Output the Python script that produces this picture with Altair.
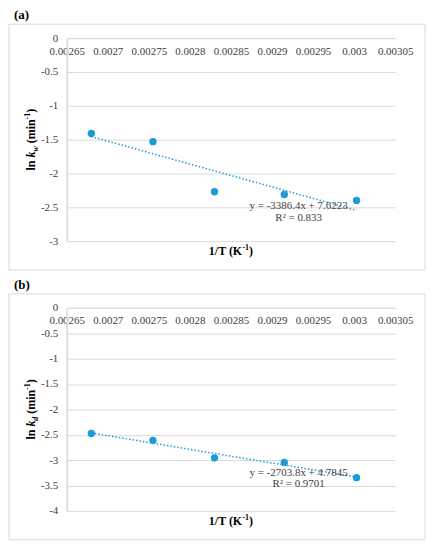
import altair as alt
import pandas as pd

# ---- data ----
inv_T = [0.00268, 0.002755, 0.00283, 0.002915, 0.003003]
ln_kw = [-1.41, -1.53, -2.27, -2.31, -2.40]
ln_kd = [-2.475, -2.61, -2.955, -3.045, -3.345]
x_ticks = [0.00265, 0.0027, 0.00275, 0.0028, 0.00285, 0.0029, 0.00295, 0.003, 0.00305]
ya_ticks = [0, -0.5, -1, -1.5, -2, -2.5, -3]
yb_ticks = [0, -0.5, -1, -1.5, -2, -2.5, -3, -3.5, -4]
eq_a = ["y = -3386.4x + 7.6223", "R² = 0.833"]
eq_b = ["y = -2703.8x + 4.7845", "R² = 0.9701"]
tags = ["(a)", "(b)"]
subs = ["w", "d"]

W, H = 330, 204
FONT = "'Liberation Serif', 'Times New Roman', Times, serif"
BLUE = "#1E9BD7"
GRID = "#d9d9d9"
LBL = "#404040"


def txt(text, x, y, size=12, weight="bold", style="normal", align="left",
        baseline="alphabetic", angle=0, color="black"):
    return alt.Chart(pd.DataFrame({"t": [text]})).mark_text(
        font=FONT, fontSize=size, fontWeight=weight, fontStyle=style,
        align=align, baseline=baseline, angle=angle, color=color
    ).encode(x=alt.value(x), y=alt.value(y), text="t:N")


def y_title(subl):
    s, ss = 12, 8
    segs = [
        ("ln", s, "normal", 0, (0.278 + 0.556) * s + 0.25 * s),
        ("k", s, "italic", 0, 0.5 * s),
        (subl, ss, "italic", 3, (0.667 if subl == "w" else 0.5) * ss + 0.25 * s),
        ("(min", s, "normal", 0, (0.333 + 0.833 + 0.278 + 0.556) * s),
        ("-1", ss, "normal", -5, (0.333 + 0.5) * ss),
        (")", s, "normal", 0, 0.333 * s),
    ]
    total = sum(g[4] for g in segs)
    pos = H / 2 + total / 2
    out = []
    for text, size, style, shift, adv in segs:
        out.append(txt(text, -32 + shift, pos, size=size, style=style, angle=270))
        pos -= adv
    return out


def x_title():
    s, ss = 12, 8
    segs = [
        ("1/T (K", s, 0, (0.5 + 0.278 + 0.667 + 0.25 + 0.333 + 0.778) * s),
        ("-1", ss, -5, (0.333 + 0.5) * ss),
        (")", s, 0, 0.333 * s),
    ]
    total = sum(g[3] for g in segs)
    pos = W / 2 - total / 2
    out = []
    for text, size, shift, adv in segs:
        out.append(txt(text, pos, H + 14 + shift, size=size))
        pos += adv
    return out


def panel(yvals, ymin, yticks, tag, subl, eqs, eq_fy):
    df = pd.DataFrame({"x": inv_T, "y": yvals})
    base = alt.Chart(df)
    xs = alt.X(
        "x:Q",
        scale=alt.Scale(domain=[x_ticks[0], x_ticks[-1]], nice=False, zero=False),
        axis=alt.Axis(orient="bottom", offset=-H, values=x_ticks, format="~g",
                      title=None, grid=False, ticks=False, tickSize=0,
                      labelPadding=7, domainColor=GRID, domainWidth=1,
                      labelFlush=False, labelOverlap=False,
                      labelFont=FONT, labelFontSize=11, labelColor=LBL),
    )
    ys = alt.Y(
        "y:Q",
        scale=alt.Scale(domain=[ymin, 0], nice=False, zero=False),
        axis=alt.Axis(values=yticks,
                      labelExpr="datum.value == 0 ? '0' : '-' + format(abs(datum.value), '~g')",
                      title=None, grid=True, gridColor=GRID, gridWidth=1,
                      ticks=False, tickSize=0, labelPadding=9,
                      domainColor=GRID, domainWidth=1.5,
                      labelFont=FONT, labelFontSize=11, labelColor=LBL),
    )
    border = alt.Chart(pd.DataFrame({"b": [0]})).mark_rect(
        filled=False, stroke=GRID, strokeWidth=1
    ).encode(x=alt.value(-58), x2=alt.value(W + 30),
             y=alt.value(-14), y2=alt.value(H + 29))
    pts = base.mark_circle(size=55, color=BLUE, opacity=1).encode(x=xs, y=ys)
    trend = base.transform_regression("x", "y").mark_line(
        color=BLUE, strokeWidth=1.5, strokeDash=[1.5, 2]
    ).encode(x=xs, y=ys)
    layers = [border, trend, pts]
    layers.append(txt(tag, -53, -23, size=13, baseline="middle"))
    layers += y_title(subl)
    layers += x_title()
    layers.append(txt(eqs[0], 0.706 * W, eq_fy[0] * H, size=11, weight="normal",
                      align="center", baseline="middle", color=LBL))
    layers.append(txt(eqs[1], 0.706 * W, eq_fy[1] * H, size=11, weight="normal",
                      align="center", baseline="middle", color=LBL))
    return alt.layer(*layers).properties(width=W, height=H)


pa = panel(ln_kw, -3, ya_ticks, tags[0], subs[0], eq_a, [0.827, 0.885])
pb = panel(ln_kd, -4, yb_ticks, tags[1], subs[1], eq_b, [0.8125, 0.870])

chart = alt.vconcat(pa, pb, spacing=8).properties(padding=0).configure_view(
    strokeWidth=0
)

chart.save("out.html", embed_options={"renderer": "svg", "actions": False})
